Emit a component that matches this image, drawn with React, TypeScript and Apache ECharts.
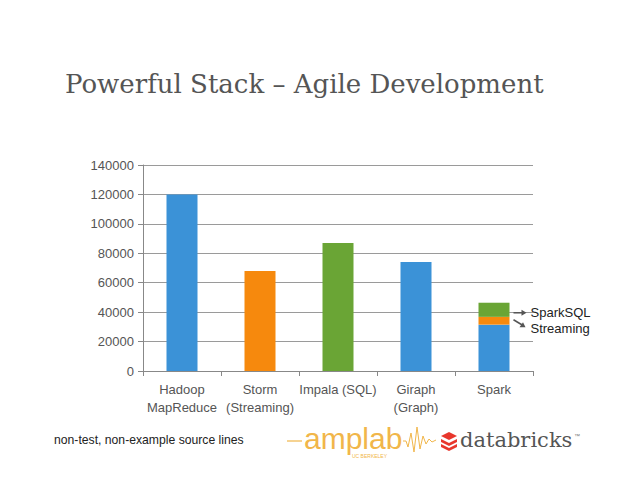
import React, { useEffect, useRef } from "react";
import * as echarts from "echarts";

const categories = ["Hadoop\nMapReduce", "Storm\n(Streaming)", "Impala (SQL)", "Giraph\n(Graph)", "Spark"];
const baseValues = [120000, 68000, 87000, 74000, 31500];
const baseColors = ["#3b92d7", "#f6890d", "#6aa535", "#3b92d7", "#3b92d7"];
const streamingValues: (number | null)[] = [null, null, null, null, 5300];
const sqlValues: (number | null)[] = [null, null, null, null, 9600];
const yTicks = { min: 0, max: 140000, interval: 20000 };
const titleText = "Powerful Stack \u2013 Agile Development";
const footText = "non-test, non-example source lines";

export default function App() {
  const ref = useRef<HTMLDivElement>(null);
  useEffect(() => {
    document.body.style.margin = "0";
    const chart = echarts.init(ref.current!, null, { renderer: "svg" });
    const barW = 31;
    chart.setOption({
      animation: false,
      backgroundColor: "#ffffff",
      grid: { left: 143, right: 105, top: 165, bottom: 122, containLabel: false },
      xAxis: {
        type: "category",
        data: categories,
        axisLine: { show: true, lineStyle: { color: "#888", width: 1 } },
        axisTick: { show: true, length: 5, interval: 0, lineStyle: { color: "#888" } },
        axisLabel: {
          color: "#555",
          fontFamily: "Liberation Sans",
          fontSize: 13,
          lineHeight: 18,
          margin: 9,
          interval: 0,
        },
      },
      yAxis: {
        type: "value",
        min: yTicks.min,
        max: yTicks.max,
        interval: yTicks.interval,
        axisLine: { show: true, lineStyle: { color: "#888", width: 1 } },
        axisTick: { show: true, length: 5, lineStyle: { color: "#888" } },
        splitLine: { show: true, lineStyle: { color: "#9a9a9a", width: 1 } },
        axisLabel: {
          color: "#555",
          fontFamily: "Liberation Sans",
          fontSize: 13,
          margin: 9,
          formatter: (v: number) => String(v),
        },
      },
      series: [
        {
          type: "bar",
          stack: "s",
          barWidth: barW,
          data: baseValues.map((v, i) => ({ value: v, itemStyle: { color: baseColors[i] } })),
        },
        { type: "bar", stack: "s", barWidth: barW, itemStyle: { color: "#f6890d" }, data: streamingValues },
        { type: "bar", stack: "s", barWidth: barW, itemStyle: { color: "#6aa535" }, data: sqlValues },
      ],
    });

    // annotation positions from the chart's own scales
    const sIdx = 4;
    const base = baseValues[sIdx];
    const st = streamingValues[sIdx] as number;
    const sq = sqlValues[sIdx] as number;
    const pStream = chart.convertToPixel({ gridIndex: 0 }, [sIdx, base + st / 2]) as number[];
    const pSql = chart.convertToPixel({ gridIndex: 0 }, [sIdx, base + st + sq / 2]) as number[];
    const xr = pStream[0] + barW / 2;
    const arrowCol = "#555";
    const ySql = pSql[1] + 3;
    const yStr = pStream[1];
    const wave: number[][] = [
      [403, 441], [406, 441], [408, 447], [411, 433], [414, 452], [417, 427], [420, 449], [423, 436], [426, 444], [429, 439], [432, 442], [436, 440],
    ];
    chart.setOption({
      graphic: [
        {
          type: "text",
          x: 65,
          y: 71,
          style: { text: titleText, fill: "#555", font: "normal 26px 'DejaVu Serif'" },
        },
        // SparkSQL arrow
        { type: "line", shape: { x1: xr + 4, y1: ySql, x2: xr + 15, y2: ySql }, style: { stroke: arrowCol, lineWidth: 1.5 } },
        { type: "polygon", shape: { points: [[xr + 17, ySql], [xr + 12, ySql - 3], [xr + 12, ySql + 3]] }, style: { fill: arrowCol } },
        { type: "text", x: xr + 21, y: ySql, style: { text: "SparkSQL", fill: "#222", font: "13px 'Liberation Sans'", verticalAlign: "middle" } },
        // Streaming arrow
        { type: "line", shape: { x1: xr + 4, y1: yStr - 1, x2: xr + 14, y2: yStr + 5 }, style: { stroke: arrowCol, lineWidth: 1.5 } },
        { type: "polygon", shape: { points: [[xr + 16, yStr + 6.5], [xr + 10, yStr + 6.5], [xr + 13.5, yStr + 1.5]] }, style: { fill: arrowCol } },
        { type: "text", x: xr + 21, y: yStr + 8, style: { text: "Streaming", fill: "#222", font: "13px 'Liberation Sans'", verticalAlign: "middle" } },
        // footer
        { type: "text", x: 54, y: 440, style: { text: footText, fill: "#222", font: "12.2px 'Liberation Sans'", verticalAlign: "middle" } },
        { type: "line", shape: { x1: 287, y1: 441, x2: 302, y2: 441 }, style: { stroke: "#f1b64a", lineWidth: 1.2 } },
        { type: "text", x: 304, y: 438, style: { text: "amplab", fill: "#f1b64a", font: "normal 30px 'Liberation Sans Narrow', 'Liberation Sans'", verticalAlign: "middle" } },
        { type: "text", x: 352, y: 456, style: { text: "UC BERKELEY", fill: "#f1b64a", font: "5px 'Liberation Sans'", verticalAlign: "middle" } },
        { type: "polyline", shape: { points: wave }, style: { stroke: "#f1b64a", lineWidth: 1, fill: "none" } },
        { type: "polygon", shape: { points: [[449, 432], [457, 436], [449, 440], [441, 436]] }, style: { fill: "#e8362c" } },
        { type: "polygon", shape: { points: [[441, 439], [449, 443], [457, 439], [457, 442], [449, 446], [441, 442]] }, style: { fill: "#e8362c" } },
        { type: "polygon", shape: { points: [[441, 444], [449, 448], [457, 444], [457, 447], [449, 451], [441, 447]] }, style: { fill: "#e8362c" } },
        { type: "text", x: 460, y: 440, style: { text: "databricks", fill: "#555", font: "normal 21px 'DejaVu Serif'", verticalAlign: "middle" } },
        { type: "text", x: 574, y: 436, style: { text: "\u2122", fill: "#777", font: "6px 'Liberation Sans'", verticalAlign: "middle" } },
      ],
    });
    return () => chart.dispose();
  }, []);
  return <div ref={ref} style={{ width: 638, height: 493 }} />;
}
